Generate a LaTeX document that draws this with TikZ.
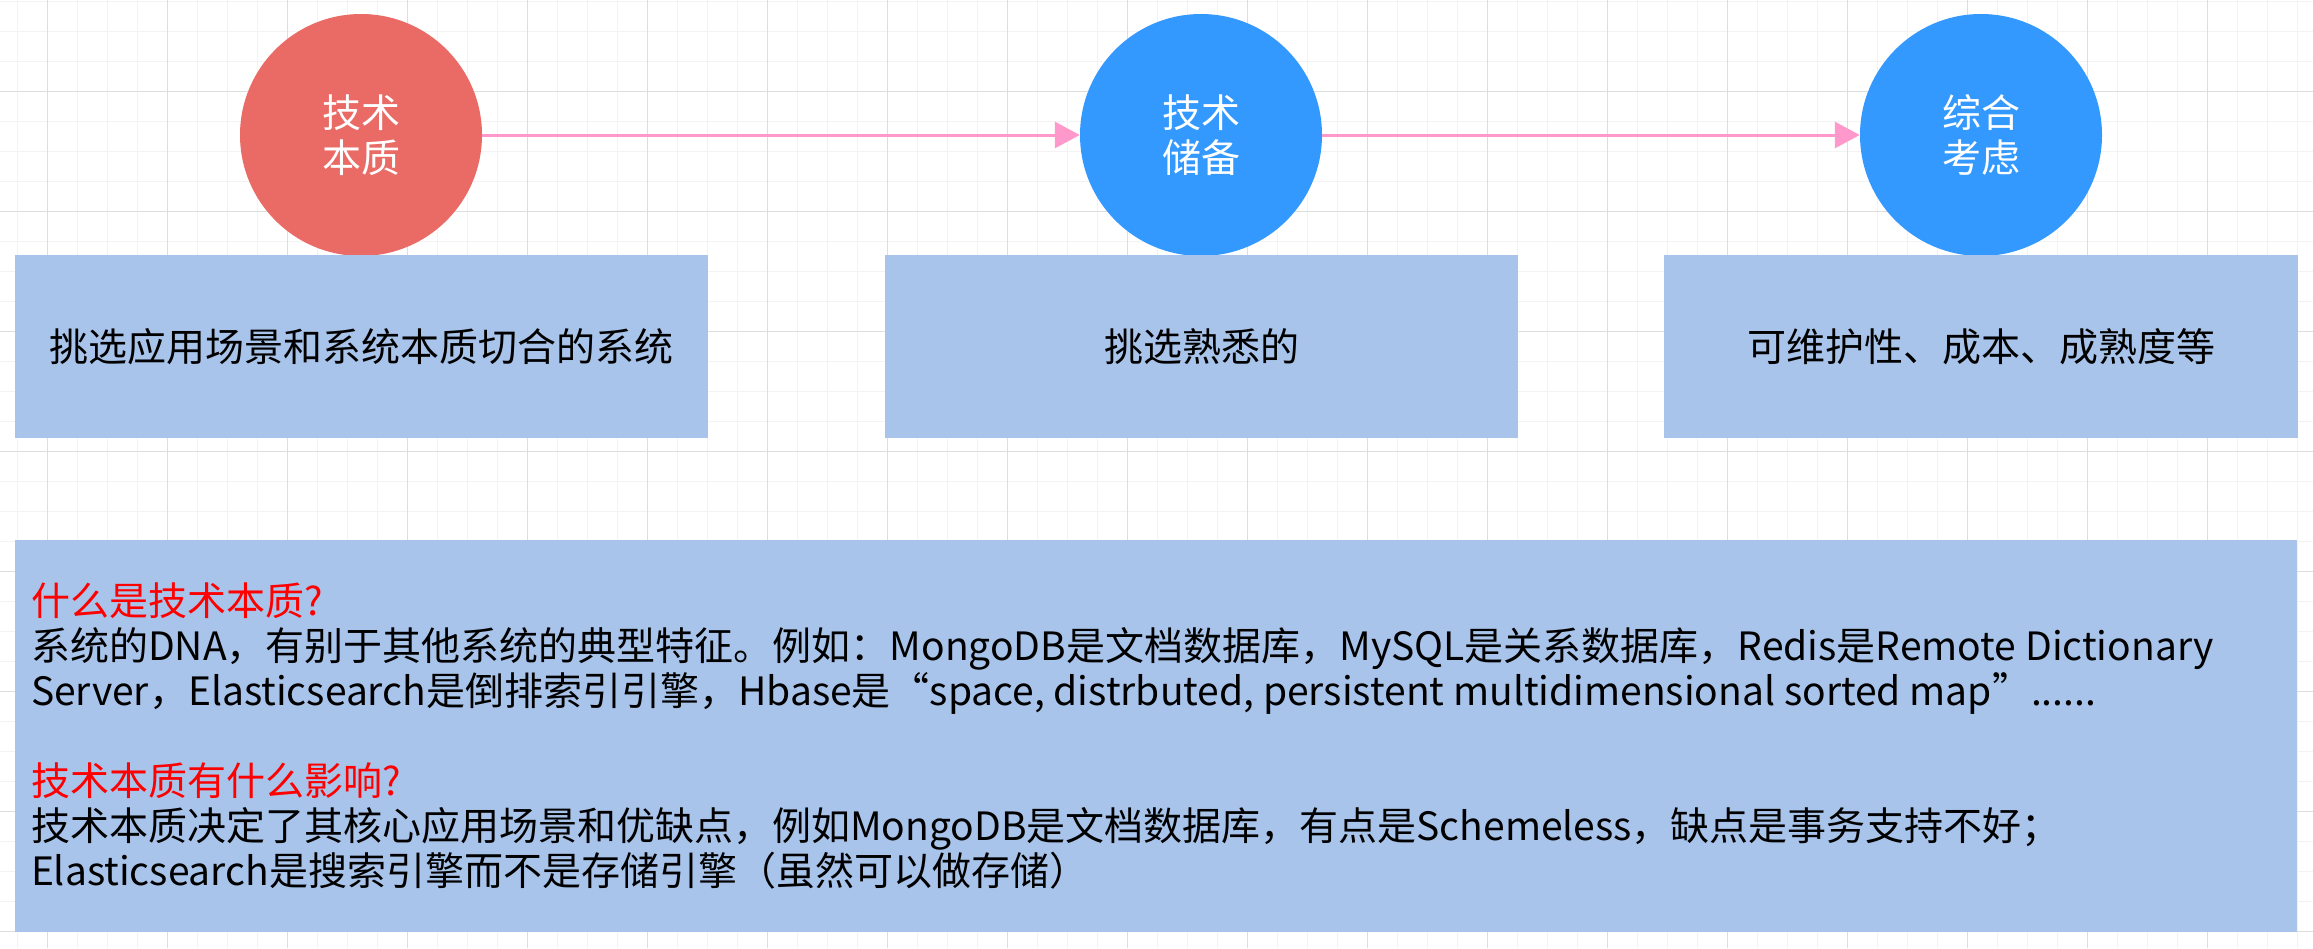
\documentclass[tikz,border=0pt]{standalone}
\usepackage{fontspec}
\setmainfont{Noto Sans CJK SC}
\usetikzlibrary{arrows.meta,positioning}
\definecolor{essred}{HTML}{EA6B66}
\definecolor{prepblue}{HTML}{3399FF}
\definecolor{boxblue}{HTML}{A9C4EB}
\definecolor{linkpink}{HTML}{FF99CC}
\definecolor{gridmajor}{HTML}{DEDEDE}
\definecolor{gridminor}{HTML}{F3F3F3}
\newcommand{\txtsize}{\fontsize{39}{45}\selectfont}

\begin{document}
\begin{tikzpicture}[x=1pt, y=-1pt,
    stage/.style={circle, minimum size=242pt, inner sep=0pt, text=white, align=center, font=\txtsize},
    note/.style={fill=boxblue, inner sep=0pt, font=\txtsize},
    link/.style={draw=linkpink, line width=3pt, -{Triangle[length=25pt, width=26pt]}}]
  \useasboundingbox (0,0) rectangle (2313,948);
  \fill[white] (0,0) rectangle (2313,948);
  % background grid
  \foreach \gx in {17,47,...,2297} \draw[gridminor, line width=1pt] (\gx,0) -- (\gx,948);
  \foreach \gy in {1,31,...,931} \draw[gridminor, line width=1pt] (0,\gy) -- (2313,\gy);
  \foreach \gx in {47,167,...,2207} \draw[gridmajor, line width=1pt] (\gx,0) -- (\gx,948);
  \foreach \gy in {91,211,...,931} \draw[gridmajor, line width=1pt] (0,\gy) -- (2313,\gy);

  \node (essence) at (361,135)  [stage, fill=essred] {技术\\本质};
  \node (skills)  at (1201,135) [stage, fill=prepblue] {技术\\储备};
  \node (overall) at (1981,135) [stage, fill=prepblue] {综合\\考虑};
  \node (pickfit)  at (361.5,346.5)  [note, minimum width=693pt, minimum height=183pt] {挑选应用场景和系统本质切合的系统};
  \node (pickknown) at (1201.5,346.5) [note, minimum width=633pt, minimum height=183pt] {挑选熟悉的};
  \node (pickcost) at (1981,346.5)   [note, minimum width=634pt, minimum height=183pt] {可维护性、成本、成熟度等};
  \draw[link] (essence) -- (skills);
  \draw[link] (skills) -- (overall);

  \node (faq) at (1156,736) [note, minimum width=2282pt, minimum height=392pt] {};
  \node (faqtext) [right=16pt of faq.west, anchor=west, align=left, inner sep=0pt, font=\txtsize] {%
    \textcolor{red}{什么是技术本质?}\\
    系统的DNA，有别于其他系统的典型特征。例如：MongoDB是文档数据库，MySQL是关系数据库，Redis是Remote Dictionary\\
    Server，Elasticsearch是倒排索引引擎，Hbase是“space, distrbuted, persistent multidimensional sorted map”......\\[45pt]
    \textcolor{red}{技术本质有什么影响?}\\
    技术本质决定了其核心应用场景和优缺点，例如MongoDB是文档数据库，有点是Schemeless，缺点是事务支持不好；\\
    Elasticsearch是搜索引擎而不是存储引擎（虽然可以做存储）};
\end{tikzpicture}
\end{document}
